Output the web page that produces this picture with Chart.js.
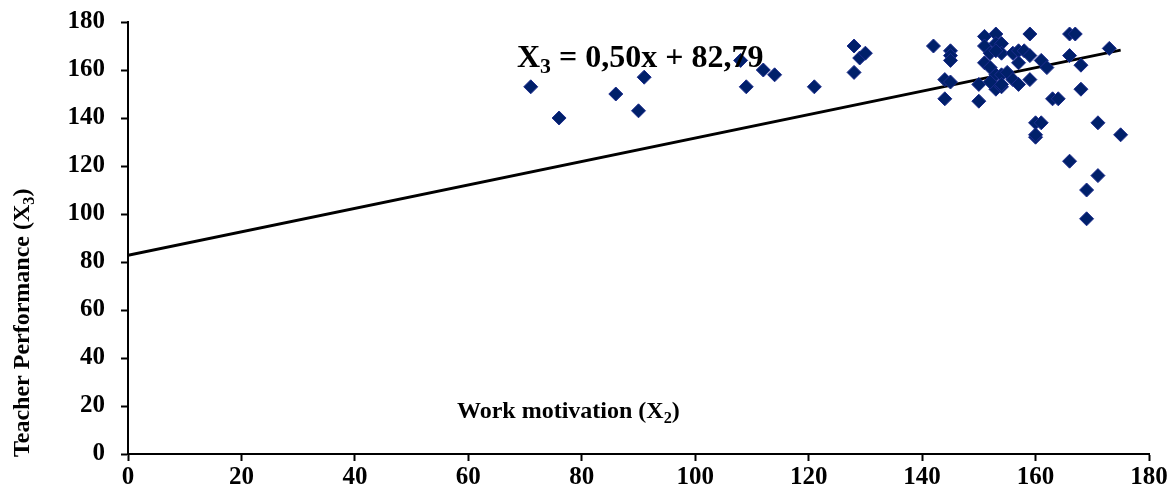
<!DOCTYPE html>
<html>
<head>
<meta charset="utf-8">
<script src="https://cdn.jsdelivr.net/npm/chart.js@4.4.0/dist/chart.umd.min.js"></script>
<style>
  html, body { margin: 0; padding: 0; background: #fff; }
  #wrap { width: 1172px; height: 498px; }
</style>
</head>
<body>
<div id="wrap"><canvas id="grafico" width="1172" height="498"></canvas></div>
<script>
// Dados: motivação (X2) e desempenho (X3)
const motivacao = [
  71, 76, 86, 90, 91, 108, 109, 112, 114, 121, 128, 128, 129, 130,
  142, 145, 145, 145, 144, 145, 144,
  150, 150,
  151, 153, 151, 153, 154, 152, 154, 153,
  156, 157, 158, 159, 159,
  157, 161, 162,
  151, 152, 153, 154, 155,
  156, 157, 159,
  153, 154, 152, 154,
  166, 167, 166, 168, 168,
  163, 164, 173,
  160, 161, 160, 160, 171, 175,
  166, 171, 169, 169
];
const desempenho = [
  153, 140, 150, 143, 157, 164, 153, 160, 158, 153, 170, 159, 165, 167,
  170, 168, 166, 164, 156, 155, 148,
  147, 154,
  174, 175, 170, 171, 171, 167, 167, 168,
  167, 168, 168, 175, 166,
  163, 164, 161,
  163, 161, 158, 158, 159,
  156, 154, 156,
  152, 153, 155, 154,
  175, 175, 166, 162, 152,
  148, 148, 169,
  138, 138, 132, 133, 138, 133,
  122, 116, 110, 98
];

// Linha de tendência (extremos)
const tendenciaX = [0, 175];
const tendenciaY = [82.8, 168.3];

const ticksEixo = [0, 20, 40, 60, 80, 100, 120, 140, 160, 180];

const FONTE = "'Liberation Serif', 'Times New Roman', serif";

// Escreve texto com partes em subscrito
function textoComSub(ctx, partes, x, y, tam) {
  let cx = x;
  partes.forEach(function(p) {
    const t = p.sub ? tam * 0.68 : tam;
    ctx.font = 'bold ' + t + 'px ' + FONTE;
    ctx.fillText(p.txt, cx, p.sub ? y + tam * 0.2 : y);
    cx += ctx.measureText(p.txt).width;
  });
}

const rotulosPlugin = {
  id: 'rotulos',
  afterDraw: function(chart) {
    const ctx = chart.ctx;
    ctx.save();
    ctx.fillStyle = '#000';
    ctx.textBaseline = 'alphabetic';
    ctx.textAlign = 'left';

    // Equação da reta
    textoComSub(ctx, [
      { txt: 'X' }, { txt: '3', sub: true }, { txt: ' = 0,50x + 82,79' }
    ], 517, 67, 32);

    // Título eixo X (dentro da área)
    textoComSub(ctx, [
      { txt: 'Work motivation (X' }, { txt: '2', sub: true }, { txt: ')' }
    ], 457, 418, 24);

    // Título eixo Y (rotacionado)
    ctx.translate(29, 457);
    ctx.rotate(-Math.PI / 2);
    textoComSub(ctx, [
      { txt: 'Teacher Performance (X' }, { txt: '3', sub: true }, { txt: ')' }
    ], 0, 0, 24);
    ctx.restore();
  }
};

const pontos = motivacao.map(function(v, i) { return { x: v, y: desempenho[i] }; });
const tendencia = tendenciaX.map(function(v, i) { return { x: v, y: tendenciaY[i] }; });

const eixoComum = {
  type: 'linear',
  min: 0,
  max: 180,
  afterBuildTicks: function(scale) {
    scale.ticks = ticksEixo.map(function(v) { return { value: v }; });
  },
  border: { display: true, color: '#000', width: 2 },
  grid: {
    display: true,
    drawOnChartArea: false,
    drawTicks: true,
    tickLength: 7,
    tickWidth: 2,
    tickColor: '#000'
  },
  ticks: {
    color: '#000',
    font: { family: FONTE, size: 25, weight: 'bold' }
  }
};

new Chart(document.getElementById('grafico'), {
  type: 'scatter',
  data: {
    datasets: [
      {
        label: 'Dados',
        data: pontos,
        pointStyle: 'rectRot',
        pointRadius: 7,
        pointHoverRadius: 7,
        backgroundColor: '#00206a',
        borderColor: '#1c2b8c',
        borderWidth: 1
      },
      {
        label: 'Tendência',
        type: 'line',
        data: tendencia,
        borderColor: '#000',
        borderWidth: 2.8,
        pointRadius: 0,
        fill: false
      }
    ]
  },
  options: {
    responsive: false,
    animation: false,
    layout: { padding: { top: 22, right: 23, left: 0, bottom: 0 } },
    plugins: {
      legend: { display: false },
      tooltip: { enabled: false }
    },
    scales: {
      x: Object.assign({}, eixoComum, {
        position: 'bottom',
        ticks: Object.assign({}, eixoComum.ticks, { padding: 2, maxRotation: 0 }),
        afterFit: function(scale) {
          scale.height = 44;
          scale.paddingLeft = 0;
          scale.paddingRight = 0;
        }
      }),
      y: Object.assign({}, eixoComum, {
        position: 'left',
        ticks: Object.assign({}, eixoComum.ticks, { padding: 16 }),
        afterFit: function(scale) {
          scale.width = 128;
          scale.paddingTop = 0;
          scale.paddingBottom = 0;
        }
      })
    }
  },
  plugins: [rotulosPlugin]
});
</script>
</body>
</html>
